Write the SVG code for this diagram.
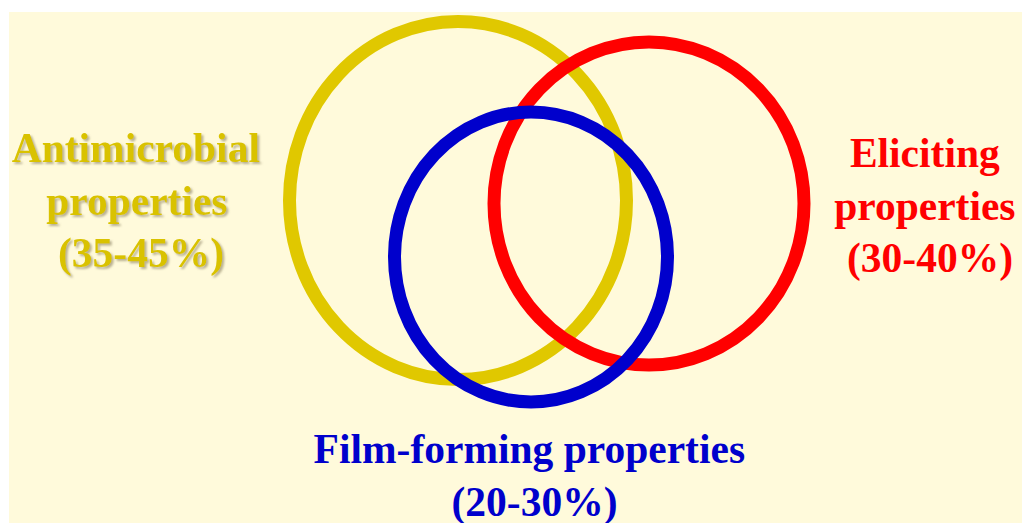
<svg xmlns="http://www.w3.org/2000/svg" width="1022" height="523" viewBox="0 0 1022 523">
  <defs>
    <style>
      .lbl { font-family: "Liberation Serif", "Times New Roman", serif; font-weight: bold; font-size: 41.5px; text-anchor: middle; }
      .ring { fill: none; stroke-width: 13; }
    </style>
    <filter id="shadow" x="-10%" y="-10%" width="130%" height="140%">
      <feDropShadow dx="2" dy="2" stdDeviation="0.8" flood-color="#8a8060" flood-opacity="0.6"/>
    </filter>
  </defs>
  <rect x="0" y="0" width="1022" height="523" fill="#ffffff"/>
  <rect x="9" y="12" width="1013" height="511" fill="#FFFADB"/>

  <g id="antimicrobial">
    <ellipse class="ring" cx="458" cy="200.5" rx="168.5" ry="179" stroke="#E0C800"/>
    <text class="lbl" fill="#D9C200" filter="url(#shadow)">
      <tspan x="141" y="162">Antimicrobial</tspan>
      <tspan x="142" y="215">properties</tspan>
      <tspan x="141" y="267">(35-45%)</tspan>
    </text>
  </g>

  <g id="eliciting">
    <ellipse class="ring" cx="649" cy="203.5" rx="155" ry="161.5" stroke="#FF0000"/>
    <text class="lbl" fill="#FF0000">
      <tspan x="930" y="167">Eliciting</tspan>
      <tspan x="930" y="220">properties</tspan>
      <tspan x="930" y="272">(30-40%)</tspan>
    </text>
  </g>

  <g id="film-forming">
    <ellipse class="ring" cx="531" cy="257" rx="136.5" ry="145" stroke="#0000CC"/>
    <text class="lbl" fill="#0000CC">
      <tspan x="534.5" y="463">Film-forming properties</tspan>
      <tspan x="534.5" y="516">(20-30%)</tspan>
    </text>
  </g>

  <g id="connectors"></g>
</svg>
